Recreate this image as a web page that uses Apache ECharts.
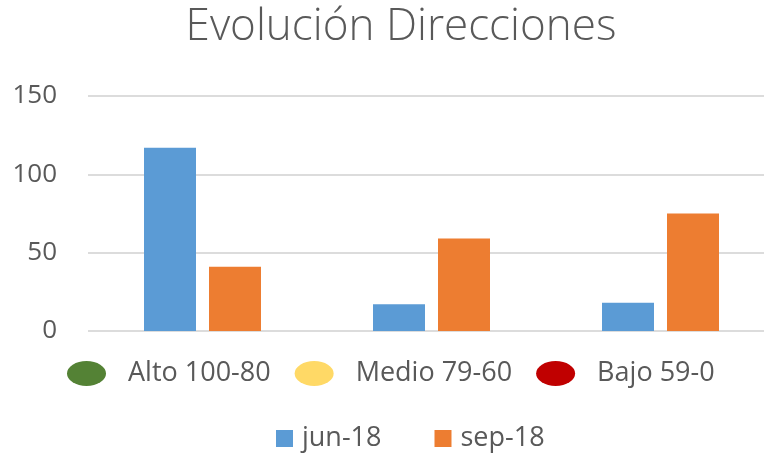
<!DOCTYPE html>
<html>
<head>
<meta charset="utf-8">
<script src="https://cdn.jsdelivr.net/npm/echarts@6/dist/echarts.min.js"></script>
<style>
html, body { margin: 0; padding: 0; background: #fff; }
#main { width: 764px; height: 454px; }
</style>
</head>
<body>
<div id="main"></div>
<script>
// datos
var categorias = ['Alto 100-80', 'Medio 79-60', 'Bajo 59-0'];
var jun18 = [117, 17, 18];
var sep18 = [41, 59, 75];
var niveles = ['Alto 100-80', 'Medio 79-60', 'Bajo 59-0'];
var coloresNivel = ['#548235', '#FFD966', '#C00000'];
var ejeY = { min: 0, max: 150, interval: 50 };

var gris = '#595959';
var fuente = 'Open Sans';
var elipse = 'path://M0,12.5 A19.5,12.5 0 1,1 39,12.5 A19.5,12.5 0 1,1 0,12.5 Z';

var myChart = echarts.init(document.getElementById('main'));

// series vacias solo para la leyenda de niveles
var seriesNivel = niveles.map(function (n, i) {
  return { name: n, type: 'line', data: [], color: coloresNivel[i], silent: true };
});

myChart.setOption({
  animation: false,
  title: {
    text: 'Evolución Direcciones',
    left: 396,
    top: 0,
    textAlign: 'center',
    textStyle: { fontFamily: fuente, fontSize: 44, fontWeight: 300, color: gris }
  },
  legend: [
    {
      data: niveles,
      left: 62,
      top: 355,
      icon: elipse,
      itemWidth: 39,
      itemHeight: 25,
      itemGap: 24,
      textStyle: { fontFamily: fuente, fontSize: 27, color: gris, padding: [0, 0, 0, 17] }
    },
    {
      data: ['jun-18', 'sep-18'],
      left: 271,
      top: 420,
      icon: 'rect',
      itemWidth: 17,
      itemHeight: 17,
      itemGap: 53,
      textStyle: { fontFamily: fuente, fontSize: 27, color: gris, padding: [0, 0, 0, 4] }
    }
  ],
  grid: { left: 88, width: 687, top: 96, bottom: 123, outerBoundsMode: 'none' },
  xAxis: {
    type: 'category',
    data: categorias,
    axisLine: { show: false },
    axisTick: { show: false },
    axisLabel: { show: false }
  },
  yAxis: {
    type: 'value',
    min: ejeY.min,
    max: ejeY.max,
    interval: ejeY.interval,
    axisLine: { show: false },
    axisTick: { show: false },
    axisLabel: { fontFamily: fuente, fontSize: 26, color: gris, margin: 31 },
    splitLine: { lineStyle: { color: '#dcdcdc', width: 2 } }
  },
  series: [
    { name: 'jun-18', type: 'bar', data: jun18, color: '#5B9BD5', barWidth: 52, barGap: '25%' },
    { name: 'sep-18', type: 'bar', data: sep18, color: '#ED7D31', barWidth: 52, barGap: '25%' }
  ].concat(seriesNivel)
});
</script>
</body>
</html>
